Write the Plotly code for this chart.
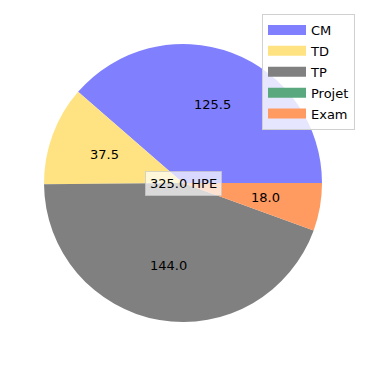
import math
import plotly.graph_objects as go

labels = ["CM", "TD", "TP", "Projet", "Exam"]
values = [125.5, 37.5, 144.0, 0.0, 18.0]
colors = ["#8080ff", "#ffe383", "#808080", "#5aa87e", "#ff9a60"]
center_label = "325.0 HPE"

W = H = 366
OFF = 8  # page body margin in the browser
total = sum(values)
cx = (183 - OFF) / W
cy = 1 - (183 - OFF) / H
rad = 139 / W

first_frac = values[0] / total
fig = go.Figure(go.Pie(
    labels=labels, values=values, sort=False,
    direction="counterclockwise", rotation=90 - first_frac * 360,
    marker=dict(colors=colors, line=dict(width=0)),
    textinfo="none", hoverinfo="label+value", showlegend=False,
    domain=dict(x=[cx - rad, cx + rad], y=[cy - rad, cy + rad]),
))

# legend entries (wide patches like the original)
for i, (lab, col) in enumerate(zip(labels, colors)):
    fig.add_trace(go.Scatter(
        x=[None], y=[None], mode="lines", name=lab,
        line=dict(color=col, width=10), legendgroup=f"g{i}", hoverinfo="skip",
    ))

annotations = []
start = 0.0
for lab, v in zip(labels, values):
    ang = start + v / total * 360.0
    if v > 0:
        mid = math.radians((start + ang) / 2)
        annotations.append(dict(
            x=cx + 0.6 * rad * math.cos(mid), y=cy + 0.6 * rad * math.sin(mid),
            xref="paper", yref="paper", xanchor="center", yanchor="middle",
            text=f"{v:.1f}", showarrow=False,
            font=dict(family="DejaVu Sans", size=13, color="black"),
        ))
    start = ang

annotations.append(dict(
    x=cx, y=cy, xref="paper", yref="paper", xanchor="center", yanchor="middle",
    text=center_label, showarrow=False,
    font=dict(family="DejaVu Sans", size=13, color="black"),
    bgcolor="rgba(255,255,255,0.7)", bordercolor="rgba(200,200,200,0.7)",
    borderwidth=1, borderpad=4,
))

fig.update_layout(
    width=W, height=H,
    margin=dict(l=0, r=0, t=0, b=0),
    paper_bgcolor="white", plot_bgcolor="rgba(0,0,0,0)",
    xaxis=dict(visible=False), yaxis=dict(visible=False),
    annotations=annotations,
    legend=dict(
        x=347 / W, y=1 - 6 / H, xanchor="right", yanchor="top",
        bgcolor="rgba(255,255,255,0.8)", bordercolor="#d0d0d0", borderwidth=1,
        font=dict(family="DejaVu Sans", size=13, color="black"),
        traceorder="grouped", tracegroupgap=1, itemwidth=38,
    ),
)

fig.write_html("out.html")
